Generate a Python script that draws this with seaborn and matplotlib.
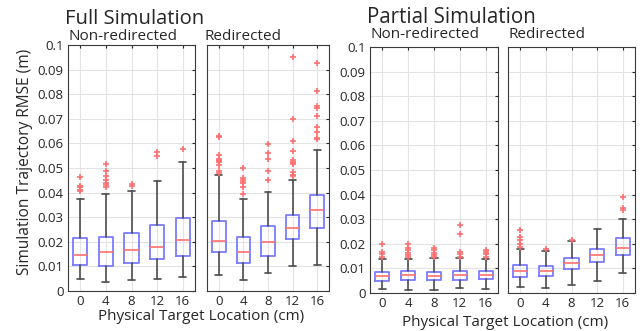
import matplotlib
matplotlib.use("Agg")
import matplotlib.pyplot as plt
import seaborn as sns
import numpy as np

# ---- data ----
locations = ["0", "4", "8", "12", "16"]

full_nonred_q1 = [0.0106, 0.0102, 0.0115, 0.0129, 0.0141]
full_nonred_med = [0.0148, 0.0159, 0.0166, 0.0178, 0.0209]
full_nonred_q3 = [0.0217, 0.0221, 0.0236, 0.0269, 0.0298]
full_nonred_lo = [0.0047, 0.0038, 0.0043, 0.0049, 0.0057]
full_nonred_hi = [0.0373, 0.0393, 0.0406, 0.0448, 0.0526]
full_nonred_out = [
    [0.0405, 0.0412, 0.0421, 0.0428, 0.0465],
    [0.0422, 0.0430, 0.0440, 0.0450, 0.0467, 0.0487, 0.0515],
    [0.0428, 0.0435],
    [0.0547, 0.0565],
    [0.0578],
]

full_red_q1 = [0.0157, 0.0113, 0.0144, 0.0210, 0.0258]
full_red_med = [0.0202, 0.0157, 0.0199, 0.0255, 0.0331]
full_red_q3 = [0.0286, 0.0220, 0.0266, 0.0308, 0.0390]
full_red_lo = [0.0064, 0.0043, 0.0073, 0.0100, 0.0104]
full_red_hi = [0.0471, 0.0374, 0.0403, 0.0453, 0.0575]
full_red_out = [
    [0.0480, 0.0487, 0.0511, 0.0525, 0.0528, 0.0532, 0.0538, 0.0552, 0.0628, 0.0632],
    [0.0395, 0.0422, 0.0437, 0.0445, 0.0450, 0.0459, 0.0499],
    [0.0450, 0.0487, 0.0536, 0.0563, 0.0598],
    [0.0467, 0.0473, 0.0483, 0.0518, 0.0522, 0.0525, 0.0532, 0.0568, 0.0608, 0.0698, 0.0953],
    [0.0617, 0.0620, 0.0645, 0.0665, 0.0713, 0.0745, 0.0752, 0.0815, 0.0928],
]

part_nonred_q1 = [0.0047, 0.0053, 0.0053, 0.0054, 0.0058]
part_nonred_med = [0.0069, 0.0072, 0.0070, 0.0073, 0.0074]
part_nonred_q3 = [0.0085, 0.0088, 0.0087, 0.0089, 0.0091]
part_nonred_lo = [0.0018, 0.0011, 0.0012, 0.0020, 0.0015]
part_nonred_hi = [0.0137, 0.0137, 0.0143, 0.0142, 0.0139]
part_nonred_out = [
    [0.0146, 0.0158, 0.0166, 0.0201],
    [0.0146, 0.0154, 0.0164, 0.0175, 0.0184, 0.0199],
    [0.0147, 0.0154, 0.0164, 0.0173, 0.0181],
    [0.0148, 0.0157, 0.0166, 0.0240, 0.0275],
    [0.0147, 0.0157, 0.0166, 0.0175],
]

part_red_q1 = [0.0065, 0.0069, 0.0096, 0.0126, 0.0156]
part_red_med = [0.0091, 0.0088, 0.0122, 0.0156, 0.0184]
part_red_q3 = [0.0112, 0.0108, 0.0141, 0.0180, 0.0225]
part_red_lo = [0.0023, 0.0019, 0.0032, 0.0047, 0.0081]
part_red_hi = [0.0177, 0.0170, 0.0211, 0.0260, 0.0300]
part_red_out = [
    [0.0188, 0.0198, 0.0217, 0.0229, 0.0256],
    [0.0180],
    [0.0217],
    [],
    [0.0337, 0.0344, 0.0390],
]

yticks = [0, 0.01, 0.02, 0.03, 0.04, 0.05, 0.06, 0.07, 0.08, 0.09, 0.1]
ytick_labels = ["0", "0.01", "0.02", "0.03", "0.04", "0.05", "0.06", "0.07", "0.08", "0.09", "0.1"]

# ---- style ----
sns.set_style("whitegrid", {
    "grid.color": "#e3e3e3",
    "axes.edgecolor": "#3a3a3a",
    "xtick.direction": "in",
    "ytick.direction": "in",
})
plt.rcParams["font.family"] = ["Open Sans", "DejaVu Sans"]
plt.rcParams["text.color"] = "#262626"
plt.rcParams["xtick.color"] = "#262626"
plt.rcParams["ytick.color"] = "#262626"

BLUE = "#7b7bff"
RED = "#ff6f6f"
DARK = "#4d4d4d"

fig = plt.figure(figsize=(6.44, 3.31), dpi=100)
W, H = 644.0, 331.0

def add_ax(x0, x1, ytop, ybot):
    return fig.add_axes([x0 / W, 1 - ybot / H, (x1 - x0) / W, (ybot - ytop) / H])

panels = [
    (add_ax(68, 195, 45, 291), full_nonred_q1, full_nonred_med, full_nonred_q3, full_nonred_lo, full_nonred_hi, full_nonred_out, True),
    (add_ax(207, 329, 45, 291), full_red_q1, full_red_med, full_red_q3, full_red_lo, full_red_hi, full_red_out, False),
    (add_ax(370, 498, 47, 293), part_nonred_q1, part_nonred_med, part_nonred_q3, part_nonred_lo, part_nonred_hi, part_nonred_out, True),
    (add_ax(508, 635, 47, 293), part_red_q1, part_red_med, part_red_q3, part_red_lo, part_red_hi, part_red_out, False),
]

for ax, q1, med, q3, lo, hi, out, show_y in panels:
    stats = []
    for i in range(len(locations)):
        stats.append(dict(q1=q1[i], med=med[i], q3=q3[i], whislo=lo[i], whishi=hi[i],
                          fliers=np.array(out[i]), label=locations[i]))
    ax.bxp(stats, positions=range(len(locations)), widths=0.55, patch_artist=False,
           boxprops=dict(color=BLUE, linewidth=1.3),
           medianprops=dict(color=RED, linewidth=1.2),
           whiskerprops=dict(color=DARK, linewidth=1.2),
           capprops=dict(color=DARK, linewidth=1.2),
           capwidths=0.28,
           flierprops=dict(marker="+", markeredgecolor=RED, markersize=4.5, markeredgewidth=1.2, linestyle="none"),
           zorder=3)
    ax.set_xlim(-0.48, 4.48)
    ax.set_ylim(0, 0.1)
    ax.set_xticks(range(len(locations)))
    ax.set_xticklabels(locations, fontsize=9.5)
    ax.set_yticks(yticks)
    if show_y:
        ax.set_yticklabels(ytick_labels, fontsize=9.5)
    else:
        ax.set_yticklabels([])
    ax.tick_params(axis="both", which="both", top=True, right=True, length=2.5, width=0.8, pad=3)
    ax.grid(True, color="#e3e3e3", linewidth=0.8)
    ax.set_axisbelow(True)
    for s in ax.spines.values():
        s.set_color("#3a3a3a")
        s.set_linewidth(0.8)

# ---- texts ----
def ftext(x, y, s, size, **kw):
    fig.text(x / W, 1 - y / H, s, fontsize=size, va="baseline", **kw)

ftext(65, 24, "Full Simulation", 14.6)
ftext(68, 39.5, "Non-redirected", 11)
ftext(204, 39.5, "Redirected", 11)
ftext(367, 23, "Partial Simulation", 14.8)
ftext(370, 38.5, "Non-redirected", 11)
ftext(508, 38.5, "Redirected", 11)
ftext(201, 320, "Physical Target Location (cm)", 11, ha="center")
ftext(505, 326, "Physical Target Location (cm)", 11, ha="center")
fig.text(25 / W, 1 - 162 / H, "Simulation Trajectory RMSE (m)", fontsize=11.2,
         rotation=90, ha="center", va="center")

fig.savefig("out.png", dpi=100)
